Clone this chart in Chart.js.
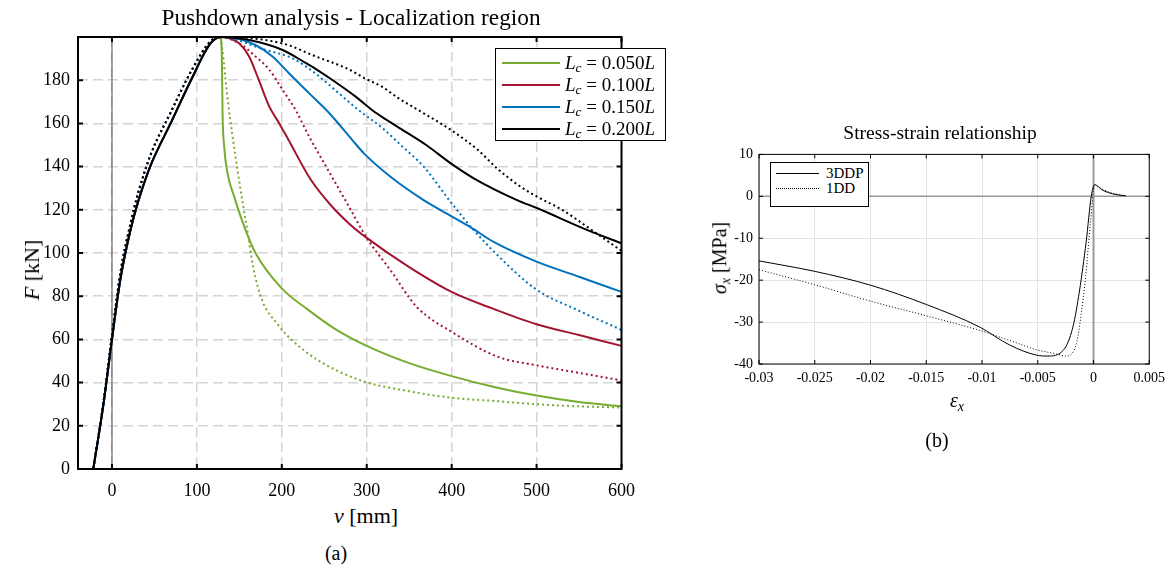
<!DOCTYPE html>
<html>
<head>
<meta charset="utf-8">
<script src="https://cdn.jsdelivr.net/npm/chart.js@4"></script>
<style>
  body { margin: 0; background: #fff; }
  #page { position: relative; width: 1171px; height: 570px; overflow: hidden;
          font-family: "Liberation Serif", "DejaVu Serif", serif; color: #000; }
  canvas { position: absolute; }
  .txt { position: absolute; white-space: nowrap; transform: translate(-50%, -50%); line-height: 1; }
  .rot { transform: translate(-50%, -50%) rotate(-90deg); }
  .legend { position: absolute; background: #fff; border: 1px solid #000; box-sizing: border-box; }
  .row { position: absolute; white-space: nowrap; line-height: 1; }
  .swatch { position: absolute; height: 0; }
  sub { font-size: 70%; vertical-align: -0.25em; }
</style>
</head>
<body>
<div id="page">
  <canvas id="push" width="646" height="500" style="left:0;top:0"></canvas>
  <canvas id="stress" width="471" height="250" style="left:700px;top:140px"></canvas>

  <div class="txt" style="left:351px;top:18px;font-size:23.3px">Pushdown analysis - Localization region</div>
  <div class="txt rot" style="left:32px;top:270px;font-size:22px"><i>F</i> [kN]</div>
  <div class="txt" style="left:366px;top:516px;font-size:22px"><i>v</i> [mm]</div>
  <div class="txt" style="left:336px;top:553px;font-size:20px">(a)</div>

  <div class="txt" style="left:940px;top:133px;font-size:19.5px">Stress-strain relationship</div>
  <div class="txt rot" style="left:721px;top:258px;font-size:20px"><i>σ<sub>x</sub></i> [MPa]</div>
  <div class="txt" style="left:957px;top:402px;font-size:20px"><i>ε<sub>x</sub></i></div>
  <div class="txt" style="left:937px;top:440px;font-size:20px">(b)</div>

  <div class="legend" id="legA" style="left:495px;top:48px;width:171px;height:93px"></div>
  <div class="legend" id="legB" style="left:770px;top:162px;width:99px;height:45px"></div>
</div>
<script>
// ---- (a) pushdown curves ----
const vTicks = [0, 100, 200, 300, 400, 500, 600];
const fTicks = [0, 20, 40, 60, 80, 100, 120, 140, 160, 180];
const lcLabels = ["0.050", "0.100", "0.150", "0.200"];

// rising branch, shared by all runs
const riseV = [-22, -10, 0, 10, 22, 31, 46, 69, 93, 116, 128];
const riseF = [0, 30, 60, 88, 111, 124, 141, 160, 180, 197, 200];
const riseDotV = [-22, -10, 0, 10, 22, 31, 46, 69, 93, 116, 127];
const riseDotF = [0, 31, 62, 91, 114, 128, 146, 165, 184, 198, 200];

// post-peak branches, solid lines
const lc050V = [129.5, 130.2, 132.2, 136, 144, 156, 169, 199, 230, 262, 300, 350, 400, 450, 500, 550, 600];
const lc050F = [188, 165, 149, 137, 126, 112, 100, 84, 74, 65, 57, 49, 43, 38, 34, 31, 29];
const lc100V = [138, 150, 161.5, 173, 185, 197, 207, 234, 258, 281, 300, 350, 400, 450, 500, 550, 600];
const lc100F = [199.4, 197, 191, 180, 168, 160, 153, 134, 122, 113, 107, 93.5, 82, 74, 67, 62, 57];
const lc150V = [146, 169, 189, 209, 232, 256, 283, 297, 328, 367, 400, 422, 450, 500, 550, 600];
const lc150F = [199.4, 196.3, 191, 183, 174, 164.7, 152.3, 146, 135.3, 124.5, 117, 112, 105, 96, 89, 82];
const lc200V = [161.5, 201, 228, 242, 260, 287, 307, 322, 336, 370, 399, 426, 477, 501, 560, 600];
const lc200F = [198.6, 194, 188, 184.7, 180, 172.4, 166, 162, 158.5, 150, 141.5, 134.6, 124.5, 120.7, 110.6, 104.5];

// post-peak branches, dotted lines
const lc050dotV = [130, 136, 142, 148, 154, 160, 166, 177, 195, 211, 242, 293, 350, 400, 450, 500, 550, 600];
const lc050dotF = [194, 172, 154, 138, 123, 109, 94, 78, 67, 60, 50.5, 41, 36, 33, 31.5, 30, 29, 28.5];
const lc100dotV = [154, 169, 185, 201, 216.5, 232, 250, 279, 300, 328, 359, 400, 454, 500, 550, 600];
const lc100dotF = [196, 191, 185, 175.5, 166, 154, 141.5, 121.5, 107, 92, 75, 63.5, 52, 48, 44.5, 41];
const lc150dotV = [181, 213, 240, 267, 291, 318, 340, 367, 399, 426, 454, 500, 548, 600];
const lc150dotF = [194, 190, 183, 174, 166, 158, 150, 140, 123.5, 110.6, 99, 83, 73.6, 64.4];
const lc200dotV = [201, 240, 279, 297, 318, 336, 370, 399, 430, 454, 480, 501, 530, 560, 600];
const lc200dotF = [197, 191, 185, 181, 177, 172, 164, 157, 148, 139, 131, 126, 120, 112, 101];

// ---- (b) stress-strain ----
const strainTicks = [-0.03, -0.025, -0.02, -0.015, -0.01, -0.005, 0, 0.005];
const stressTicks = [-40, -30, -20, -10, 0, 10];
const ddpStrain = [-0.03, -0.025, -0.02, -0.015, -0.0102, -0.0075, -0.0051, -0.0041, -0.0027, -0.00185, -0.00126, -0.00066, -0.0002, 0.0001, 0.0008, 0.0017, 0.0029];
const ddpStress = [-15.4, -17.9, -21.2, -25.8, -31.2, -35.5, -37.9, -38.1, -36.7, -31.2, -22.6, -10.9, 0, 2.8, 1.5, 0.6, 0.1];
const ddStrain = [-0.03, -0.025, -0.02, -0.015, -0.0102, -0.0075, -0.0051, -0.0033, -0.0025, -0.0018, -0.0014, -0.0011, -0.0007, -0.0003, 0.0001, 0.0005, 0.0014, 0.0026];
const ddStress = [-17.5, -21.1, -25.0, -28.5, -32.0, -34.4, -36.6, -37.6, -38.1, -37.0, -33.5, -28.0, -19.0, -7.0, 2.5, 2.1, 1.0, 0.2];
const modelLabels = ["3DDP", "1DD"];

const serif = "'Liberation Serif', 'DejaVu Serif', serif";
const lcColors = ["#77AC30", "#A2142F", "#0072BD", "#000000"];

function pts(xs, ys) {
  return xs.map((x, i) => ({ x: x, y: ys[i] }));
}

// MATLAB style box with inward ticks
const axesBox = {
  id: "axesBox",
  afterDatasetsDraw(chart, args, opts) {
    const { ctx, chartArea: a, scales } = chart;
    ctx.save();
    ctx.strokeStyle = "#000";
    ctx.lineWidth = opts.width;
    ctx.strokeRect(a.left, a.top, a.right - a.left, a.bottom - a.top);
    ctx.beginPath();
    scales.x.ticks.forEach(t => {
      const px = scales.x.getPixelForValue(t.value);
      ctx.moveTo(px, a.bottom); ctx.lineTo(px, a.bottom - opts.tickLen);
      ctx.moveTo(px, a.top); ctx.lineTo(px, a.top + opts.tickLen);
    });
    scales.y.ticks.forEach(t => {
      const py = scales.y.getPixelForValue(t.value);
      ctx.moveTo(a.left, py); ctx.lineTo(a.left + opts.tickLen, py);
      ctx.moveTo(a.right, py); ctx.lineTo(a.right - opts.tickLen, py);
    });
    ctx.stroke();
    ctx.restore();
  }
};

// reference lines at zero
const zeroLines = {
  id: "zeroLines",
  beforeDatasetsDraw(chart, args, opts) {
    const { ctx, chartArea: a, scales } = chart;
    ctx.save();
    ctx.strokeStyle = opts.color;
    if (opts.x) {
      const px = scales.x.getPixelForValue(0);
      ctx.lineWidth = opts.x;
      ctx.beginPath(); ctx.moveTo(px, a.top); ctx.lineTo(px, a.bottom); ctx.stroke();
    }
    if (opts.y) {
      const py = scales.y.getPixelForValue(0);
      ctx.lineWidth = opts.y;
      ctx.beginPath(); ctx.moveTo(a.left, py); ctx.lineTo(a.right, py); ctx.stroke();
    }
    ctx.restore();
  }
};

const solidV = [lc050V, lc100V, lc150V, lc200V];
const solidF = [lc050F, lc100F, lc150F, lc200F];
const dotV = [lc050dotV, lc100dotV, lc150dotV, lc200dotV];
const dotF = [lc050dotF, lc100dotF, lc150dotF, lc200dotF];

const pushSets = [];
for (let i = 0; i < lcLabels.length; i++) {
  pushSets.push({
    label: "Lc = " + lcLabels[i] + "L",
    data: pts(riseV.concat(solidV[i]), riseF.concat(solidF[i])),
    borderColor: lcColors[i],
    borderWidth: 2,
    order: 10 - 2 * i
  });
  pushSets.push({
    label: "Lc = " + lcLabels[i] + "L (dotted)",
    data: pts(riseDotV.concat(dotV[i]), riseDotF.concat(dotF[i])),
    borderColor: lcColors[i],
    borderWidth: 2,
    borderDash: [2, 3],
    order: 9 - 2 * i
  });
}

function tickFont(size) {
  return { family: serif, size: size };
}

new Chart(document.getElementById("push"), {
  type: "line",
  data: { datasets: pushSets },
  plugins: [zeroLines, axesBox],
  options: {
    responsive: false,
    animation: false,
    devicePixelRatio: 1,
    layout: { padding: { top: 37, right: 24, left: 0, bottom: 0 } },
    elements: { point: { radius: 0 }, line: { cubicInterpolationMode: "monotone" } },
    plugins: {
      legend: { display: false },
      tooltip: { enabled: false },
      axesBox: { width: 2, tickLen: 5 },
      zeroLines: { color: "#4d4d4d", x: 1 }
    },
    scales: {
      x: {
        type: "linear", min: -40, max: 600,
        afterBuildTicks: s => { s.ticks = vTicks.map(v => ({ value: v })); },
        afterFit: s => { s.height = 31; },
        grid: { color: "#d4d4d4", lineWidth: 1.5, drawTicks: false },
        border: { display: false, dash: [10, 5] },
        ticks: { padding: 11, color: "#000", font: tickFont(18), maxRotation: 0, autoSkip: false }
      },
      y: {
        type: "linear", min: 0, max: 200,
        afterBuildTicks: s => { s.ticks = fTicks.map(v => ({ value: v })); },
        afterFit: s => { s.width = 78; },
        grid: { color: "#d4d4d4", lineWidth: 1.5, drawTicks: false },
        border: { display: false, dash: [10, 5] },
        ticks: { padding: 8, color: "#000", font: tickFont(18), autoSkip: false }
      }
    }
  }
});

new Chart(document.getElementById("stress"), {
  type: "line",
  data: {
    datasets: [
      { label: modelLabels[0], data: pts(ddpStrain, ddpStress), borderColor: "#000", borderWidth: 1 },
      { label: modelLabels[1], data: pts(ddStrain, ddStress), borderColor: "#000", borderWidth: 1, borderDash: [1, 2] }
    ]
  },
  plugins: [zeroLines, axesBox],
  options: {
    responsive: false,
    animation: false,
    devicePixelRatio: 1,
    layout: { padding: { top: 11, right: 21, left: 0, bottom: 0 } },
    elements: { point: { radius: 0 }, line: { cubicInterpolationMode: "monotone" } },
    plugins: {
      legend: { display: false },
      tooltip: { enabled: false },
      axesBox: { width: 1, tickLen: 4 },
      zeroLines: { color: "#9a9a9a", x: 2, y: 1.5 }
    },
    scales: {
      x: {
        type: "linear", min: -0.03, max: 0.005,
        afterBuildTicks: s => { s.ticks = strainTicks.map(v => ({ value: v })); },
        afterFit: s => { s.height = 26; },
        grid: { color: "#e3e3e3", lineWidth: 1, drawTicks: false },
        border: { display: false },
        ticks: { padding: 6, color: "#000", font: tickFont(14), maxRotation: 0, autoSkip: false,
                 callback: v => String(+v.toFixed(3)) }
      },
      y: {
        type: "linear", min: -40, max: 10,
        afterBuildTicks: s => { s.ticks = stressTicks.map(v => ({ value: v })); },
        afterFit: s => { s.width = 59; },
        grid: { color: "#e3e3e3", lineWidth: 1, drawTicks: false },
        border: { display: false },
        ticks: { padding: 6, color: "#000", font: tickFont(14), autoSkip: false }
      }
    }
  }
});

// legends (html so the subscripts stay real text)
const legA = document.getElementById("legA");
for (let i = 0; i < lcLabels.length; i++) {
  const y = 13 + i * 21.9;
  legA.innerHTML +=
    '<div class="swatch" style="left:6px;width:58px;top:' + y + 'px;border-top:2px solid ' + lcColors[i] + '"></div>' +
    '<div class="row" style="left:69px;top:' + (y - 9) + 'px;font-size:19px"><i>L<sub>c</sub></i> = ' + lcLabels[i] + '<i>L</i></div>';
}
const legB = document.getElementById("legB");
for (let i = 0; i < modelLabels.length; i++) {
  const y = 9.5 + i * 15.6;
  legB.innerHTML +=
    '<div class="swatch" style="left:5px;width:43px;top:' + y + 'px;border-top:1px ' + (i ? "dotted" : "solid") + ' #000"></div>' +
    '<div class="row" style="left:55px;top:' + (y - 7) + 'px;font-size:15px">' + modelLabels[i] + '</div>';
}
</script>
</body>
</html>
